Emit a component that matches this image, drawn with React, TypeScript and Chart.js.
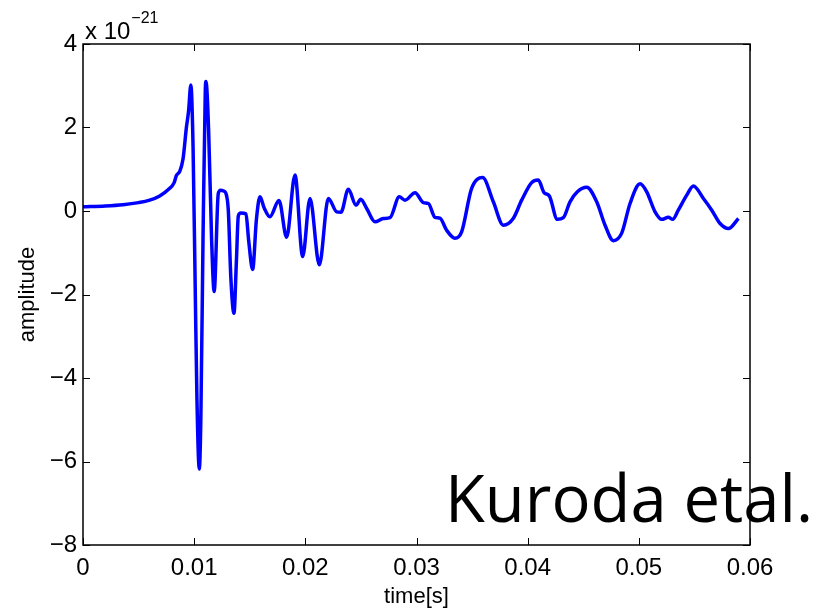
import React, { useEffect, useRef } from "react";
import { Chart, registerables } from "chart.js";

Chart.register(...registerables);

// time in seconds
const timeValues: number[] = [
  0.0, 0.002, 0.0036, 0.005, 0.006, 0.0069, 0.0077, 0.0082, 0.0084, 0.0087,
  0.009, 0.0093, 0.0095, 0.0097, 0.0099, 0.0101, 0.01025, 0.01046, 0.0106, 0.0108,
  0.011, 0.01106, 0.0113, 0.01157, 0.0118, 0.01217, 0.01238, 0.01265, 0.01286, 0.01307,
  0.0133, 0.01358, 0.0138, 0.01397, 0.0142, 0.01466, 0.0149, 0.01526, 0.0156, 0.01592,
  0.0163, 0.01681, 0.01763, 0.01832, 0.01907, 0.01976, 0.02042, 0.02126, 0.02207, 0.02282,
  0.0232, 0.02387, 0.02456, 0.02498, 0.02552, 0.02627, 0.02701, 0.02762, 0.02845, 0.02897,
  0.02987, 0.03062, 0.03107, 0.03166, 0.03211, 0.03271, 0.03346, 0.03406, 0.03496, 0.03595,
  0.03691, 0.03781, 0.0387, 0.03946, 0.04036, 0.04096, 0.04147, 0.04195, 0.04267, 0.04321,
  0.04381, 0.04447, 0.04531, 0.04621, 0.04696, 0.04771, 0.04846, 0.04921, 0.05011, 0.05071,
  0.05146, 0.05206, 0.05266, 0.05305, 0.05355, 0.05431, 0.05491, 0.05581, 0.05656, 0.05731,
  0.05806, 0.05896,
];

// amplitude in units of 1e-21
const amplitudeValues: number[] = [
  0.1, 0.12, 0.15, 0.2, 0.26, 0.36, 0.52, 0.68, 0.85, 0.95,
  1.25, 2.0, 2.4, 3.02, 1.54, -1.96, -4.5, -6.18, -4.99, -0.57,
  2.87, 3.1, 1.94, -0.7, -1.93, 0.42, 0.5, 0.48, 0.42, 0.02,
  -1.6, -2.45, -1.2, -0.12, -0.05, -0.07, -0.7, -1.4, -0.2, 0.34,
  0.07, -0.14, 0.25, -0.63, 0.86, -1.09, 0.3, -1.29, 0.3, -0.02,
  -0.03, 0.52, 0.14, 0.28, 0.06, -0.26, -0.18, -0.16, 0.34, 0.26,
  0.44, 0.2, 0.18, -0.15, -0.17, -0.46, -0.65, -0.5, 0.54, 0.8,
  0.22, -0.34, -0.18, 0.26, 0.68, 0.74, 0.44, 0.36, -0.2, -0.16,
  0.22, 0.46, 0.57, 0.22, -0.34, -0.71, -0.53, 0.18, 0.65, 0.46,
  -0.02, -0.2, -0.15, -0.2, 0.02, 0.38, 0.6, 0.3, 0.02, -0.3,
  -0.42, -0.18,
];

const xTickValues: number[] = [0, 0.01, 0.02, 0.03, 0.04, 0.05, 0.06];
const yTickValues: number[] = [-8, -6, -4, -2, 0, 2, 4];

const xTitle = "time[s]";
const yTitle = "amplitude";
const exponentBase = "x 10";
const exponentPower = "\u221221";
const annotation = "Kuroda etal.";

const FONT = "'Liberation Sans', Arial, Helvetica, sans-serif";

const framePlugin = {
  id: "matlabFrame",
  afterDraw(chart: any) {
    const { ctx, chartArea } = chart;
    const { left, right, top, bottom } = chartArea;
    const xs = chart.scales.x;
    const ys = chart.scales.y;
    ctx.save();

    // annotation text
    ctx.fillStyle = "#000";
    ctx.font = "66px 'Open Sans', 'Noto Sans', sans-serif";
    ctx.textBaseline = "alphabetic";
    ctx.textAlign = "left";
    const w = ctx.measureText(annotation).width;
    const target = 368;
    ctx.save();
    ctx.translate(445, 522);
    ctx.scale(target / w, 1);
    ctx.fillText(annotation, 0, 0);
    ctx.restore();

    // exponent label
    ctx.font = "24px " + FONT;
    ctx.fillText(exponentBase, 85, 39);
    const bw = ctx.measureText(exponentBase).width;
    ctx.font = "16px " + FONT;
    ctx.fillText(exponentPower, 85 + bw + 1, 23);

    // frame
    ctx.strokeStyle = "#000";
    ctx.lineWidth = 1.5;
    ctx.strokeRect(left, top, right - left, bottom - top);

    // inward ticks
    const tl = 7;
    ctx.lineWidth = 1;
    ctx.beginPath();
    xTickValues.forEach((v) => {
      const px = Math.round(xs.getPixelForValue(v)) + 0.5;
      ctx.moveTo(px, bottom);
      ctx.lineTo(px, bottom - tl);
      ctx.moveTo(px, top);
      ctx.lineTo(px, top + tl);
    });
    yTickValues.forEach((v) => {
      const py = Math.round(ys.getPixelForValue(v)) + 0.5;
      ctx.moveTo(left, py);
      ctx.lineTo(left + tl, py);
      ctx.moveTo(right, py);
      ctx.lineTo(right - tl, py);
    });
    ctx.stroke();
    ctx.restore();
  },
};

export default function App() {
  const canvasRef = useRef<HTMLCanvasElement | null>(null);

  useEffect(() => {
    if (!canvasRef.current) return;
    const data = timeValues.map((t, i) => ({ x: t, y: amplitudeValues[i] }));
    const chart = new Chart(canvasRef.current, {
      type: "line",
      data: {
        datasets: [
          {
            data,
            borderColor: "#0000ff",
            borderWidth: 3.5,
            pointRadius: 0,
            fill: false,
            cubicInterpolationMode: "monotone",
          },
        ],
      },
      options: {
        animation: false,
        responsive: false,
        maintainAspectRatio: false,
        layout: { padding: { top: 44, right: 71, left: 0, bottom: 0 } },
        plugins: {
          legend: { display: false },
          tooltip: { enabled: false },
        },
        scales: {
          x: {
            type: "linear",
            min: 0,
            max: 0.06,
            afterFit: (s: any) => {
              s.height = 70;
            },
            afterBuildTicks: (s: any) => {
              s.ticks = xTickValues.map((v) => ({ value: v }));
            },
            grid: { display: false, drawTicks: false },
            border: { display: false },
            ticks: {
              color: "#000",
              font: { family: FONT, size: 24 },
              padding: 9,
              maxRotation: 0,
              callback: (v: any) => (Number(v) === 0 ? "0" : Number(v).toFixed(2)),
            },
            title: {
              display: true,
              text: xTitle,
              color: "#000",
              font: { family: FONT, size: 22 },
              padding: { top: 0, bottom: 5 },
            },
          },
          y: {
            type: "linear",
            min: -8,
            max: 4,
            afterFit: (s: any) => {
              s.width = 83;
            },
            afterBuildTicks: (s: any) => {
              s.ticks = yTickValues.map((v) => ({ value: v }));
            },
            grid: { display: false, drawTicks: false },
            border: { display: false },
            ticks: {
              color: "#000",
              font: { family: FONT, size: 24 },
              padding: 6,
              callback: (v: any) => {
                const n = Number(v);
                return n < 0 ? "\u2212" + Math.abs(n) : String(n);
              },
            },
            title: {
              display: true,
              text: yTitle,
              color: "#000",
              font: { family: FONT, size: 22 },
              padding: { top: 15, bottom: 0 },
            },
          },
        },
      },
      plugins: [framePlugin],
    });
    return () => chart.destroy();
  }, []);

  return (
    <div style={{ position: "absolute", left: 0, top: 0, width: 821, height: 615, background: "#fff" }}>
      <canvas ref={canvasRef} width={821} height={615} style={{ display: "block" }} />
    </div>
  );
}
